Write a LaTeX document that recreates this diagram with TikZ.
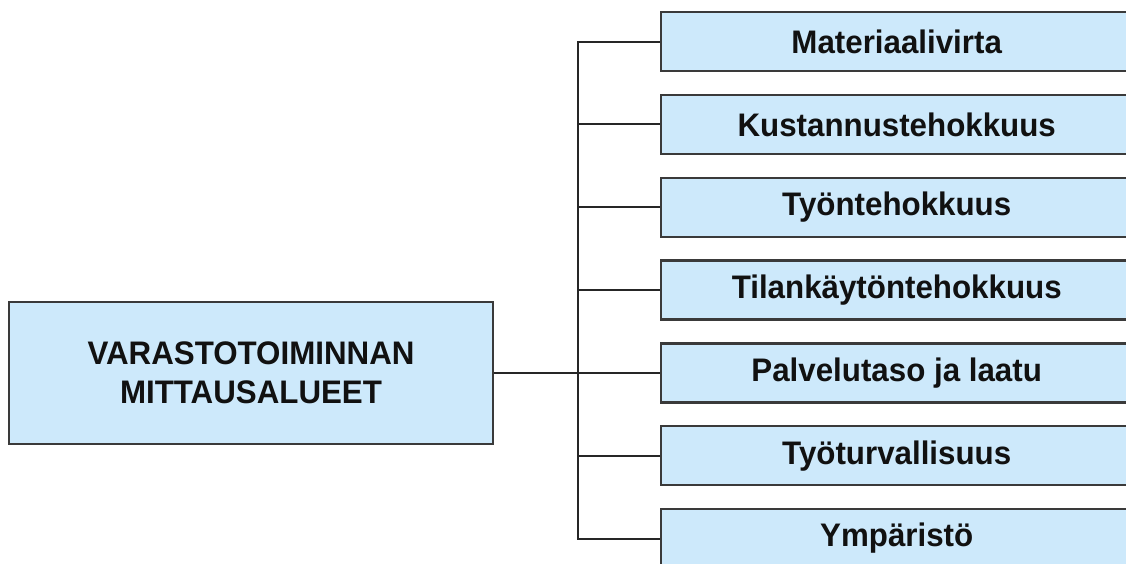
\documentclass[tikz,border=0pt]{standalone}
\usepackage{fontspec}
\setmainfont[FakeStretch=0.96]{Liberation Sans}
\definecolor{boxfill}{RGB}{205,233,251}
\definecolor{boxline}{RGB}{58,58,58}
\definecolor{txt}{RGB}{17,17,17}
\begin{document}
\begin{tikzpicture}[x=1pt,y=-1pt,
  basebox/.style={draw=boxline, line width=2.4pt, fill=boxfill, inner sep=0pt,
    text=txt, font=\bfseries\fontsize{32.6}{39.5}\selectfont, align=center},
  mainbox/.style={basebox, minimum width=484pt, minimum height=142pt},
  itembox/.style={basebox, minimum width=472pt, minimum height=59pt},
  conn/.style={draw=black!85, line width=2pt}]
\useasboundingbox (0,0) rectangle (1126,564);
\fill[white] (0,0) rectangle (1126,564);
\clip (0,0) rectangle (1126,564);
\node[mainbox] (m) at (251,373) {VARASTOTOIMINNAN\\MITTAUSALUEET};
\node[itembox] (b1) at (896.7,41.7) {Materiaalivirta};
\node[itembox] (b2) at (896.7,124.5) {Kustannustehokkuus};
\node[itembox] (b3) at (896.7,207.3) {Työntehokkuus};
\node[itembox] (b4) at (896.7,290.1) {Tilankäytöntehokkuus};
\node[itembox] (b5) at (896.7,372.9) {Palvelutaso ja laatu};
\node[itembox] (b6) at (896.7,455.7) {Työturvallisuus};
\node[itembox] (b7) at (896.7,538.5) {Ympäristö};
\coordinate (t) at (578,373);
\draw[conn] (m.east) -- (t);
\draw[conn] (b1.west) -- (b1.west -| t) -- (b7.west -| t) -- (b7.west);
\foreach \k in {2,...,6} {\draw[conn] (b\k.west -| t) -- (b\k.west);}
\end{tikzpicture}
\end{document}
